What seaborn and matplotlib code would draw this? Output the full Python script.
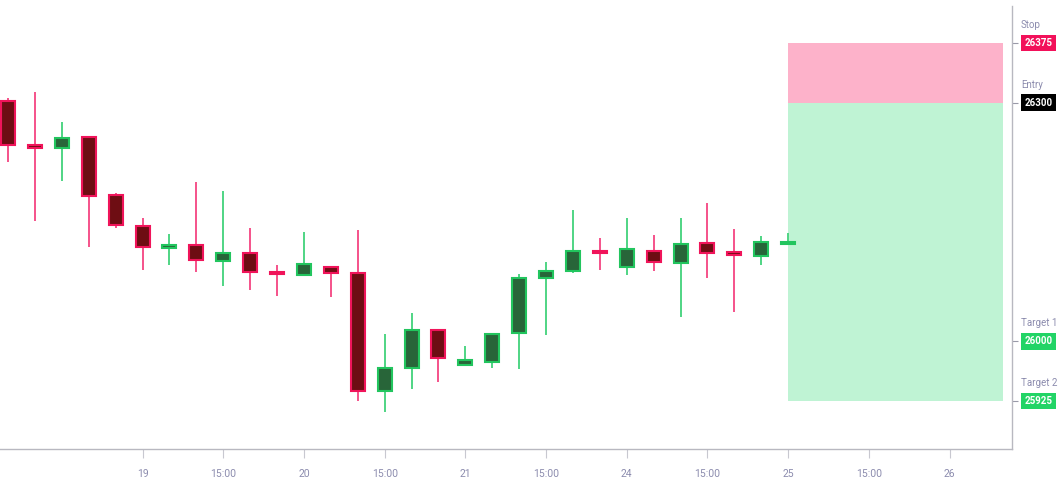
import matplotlib
matplotlib.use("Agg")
import matplotlib.pyplot as plt
import seaborn as sns
import numpy as np
import pandas as pd

# ---- data ----
opens  = [26302, 26247, 26243, 26257, 26184, 26145, 26117, 26121, 26101, 26111,
          26087, 26083, 26094, 26086, 25938, 25966, 26014, 25970, 25974, 26010,
          26080, 26089, 26114, 26094, 26114, 26099, 26123, 26112, 26107, 26122]
highs  = [26306, 26313, 26276, 26257, 26187, 26155, 26135, 26200, 26189, 26143,
          26096, 26137, 26094, 26140, 26009, 26036, 26014, 25994, 26010, 26085,
          26100, 26165, 26130, 26155, 26134, 26155, 26174, 26141, 26133, 26136]
lows   = [26225, 26151, 26201, 26118, 26142, 26090, 26096, 26087, 26070, 26064,
          26057, 26083, 26056, 25925, 25911, 25940, 25949, 25970, 25967, 25965,
          26008, 26086, 26090, 26083, 26089, 26031, 26080, 26037, 26096, 26122]
closes = [26247, 26243, 26256, 26183, 26146, 26118, 26121, 26102, 26111, 26087,
          26085, 26097, 26086, 25938, 25966, 26014, 25979, 25976, 26009, 26080,
          26089, 26114, 26111, 26116, 26100, 26122, 26111, 26108, 26125, 26124]

tick_pos = [5, 8, 11, 14, 17, 20, 23, 26, 29, 32, 35]
tick_labels = ["19", "15:00", "20", "15:00", "21", "15:00", "24", "15:00", "25", "15:00", "26"]

level_names = ["Stop", "Entry", "Target 1", "Target 2"]
level_prices = [26375, 26300, 26000, 25925]
zone_start, zone_end = 29, 37

df = pd.DataFrame({"open": opens, "high": highs, "low": lows, "close": closes})
df["idx"] = np.arange(len(df))
df["bull"] = df["close"] >= df["open"]

sns.set_theme(style="white")
plt.rcParams["font.family"] = ["Liberation Sans Narrow", "Roboto", "DejaVu Sans"]

W, H = 1058, 482
fig = plt.figure(figsize=(W / 100, H / 100), dpi=100)
ax = fig.add_axes([0, (H - 449) / H, 1012 / W, (449 - 6) / H])

RED_EDGE = "#f0145a"
RED_FILL = "#6e0d13"
RED_WICK = "#f5528a"
GRN_EDGE = "#22c55e"
GRN_FILL = "#286539"
GRN_WICK = "#4fd584"

# trade zone
ax.fill_between([zone_start, zone_end], level_prices[1], level_prices[0],
                color="#fdb2ca", lw=0, zorder=0)
ax.fill_between([zone_start, zone_end], level_prices[3], level_prices[1],
                color="#bff3d4", lw=0, zorder=0)

# wicks
for bull, wc in [(True, GRN_WICK), (False, RED_WICK)]:
    sub = df[df["bull"] == bull]
    ax.vlines(sub["idx"], sub["low"], sub["high"], color=wc, lw=1.4, zorder=2)

# bodies
bw = 0.52
for bull, fc, ec in [(True, GRN_FILL, GRN_EDGE), (False, RED_FILL, RED_EDGE)]:
    sub = df[df["bull"] == bull]
    bottom = np.minimum(sub["open"], sub["close"])
    height = np.maximum(np.abs(sub["close"] - sub["open"]), 2.5)
    ax.bar(sub["idx"], height, bottom=bottom, width=bw, color=fc,
           edgecolor=ec, linewidth=1.5, zorder=3)

ax.set_xlim(-0.3, 37.32)
ax.set_ylim(25864.7, 26421.5)

for s in ["top", "left"]:
    ax.spines[s].set_visible(False)
ax.spines["bottom"].set_color("#b8b8c0")
ax.spines["right"].set_color("#b8b8c0")
ax.spines["bottom"].set_linewidth(1)
ax.spines["right"].set_linewidth(1)

ax.set_xticks(tick_pos)
ax.set_xticklabels(tick_labels)
ax.tick_params(axis="x", bottom=True, length=6.5, width=0.8, color="#c8c8d0",
               labelsize=7.5, labelcolor="#8c8cae", pad=8)
ax.yaxis.tick_right()
ax.set_yticks(level_prices)
ax.set_yticklabels([])
ax.tick_params(axis="y", right=True, length=4.5, width=0.8, color="#9a9aa8")
ax.grid(False)

box_colors = ["#f2115a", "#000000", "#22d466", "#22d466"]
for name, price, bc in zip(level_names, level_prices, box_colors):
    ax.annotate(f"{price}", xy=(1.0, price), xycoords=("axes fraction", "data"),
                xytext=(19, 0), textcoords="offset points", ha="center", va="center",
                fontsize=7, fontweight="bold", color="white",
                bbox=dict(boxstyle="square,pad=0.35", fc=bc, ec="none"))
    ax.annotate(name, xy=(1.0, price), xycoords=("axes fraction", "data"),
                xytext=(6.5, 13), textcoords="offset points", ha="left", va="center",
                fontsize=7, color="#8c8cae")

fig.savefig("out.png", dpi=100)
